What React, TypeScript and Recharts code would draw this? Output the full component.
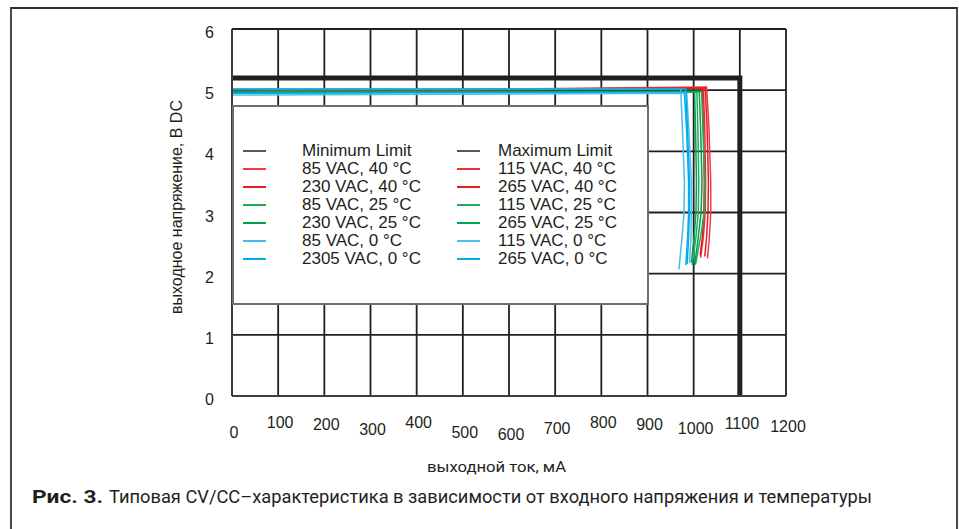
import { CartesianGrid, Legend, Line, LineChart, XAxis, YAxis } from "recharts";

// axis ticks
const xTicks = [0, 100, 200, 300, 400, 500, 600, 700, 800, 900, 1000, 1100, 1200];
const yTicks = [0, 1, 2, 3, 4, 5, 6];

// [current mA, voltage V]
const maxLimit = [[0, 5.2], [1100, 5.2], [1100, 0]];

const red85_40 = [[0, 4.98], [1028, 5.05], [1033, 4.4], [1037, 3.5], [1037, 3.0], [1034, 2.6], [1030, 2.25]];
const red230_40 = [[0, 4.97], [1025, 5.04], [1029, 4.4], [1032, 3.5], [1031, 3.0], [1028, 2.6], [1024, 2.28]];
const red115_40 = [[0, 4.98], [1021, 5.04], [1024, 4.4], [1026, 3.5], [1025, 3.0], [1021, 2.6], [1015, 2.26]];
const red265_40 = [[0, 4.97], [1019, 5.03], [1021, 4.4], [1023, 3.5], [1022, 3.0], [1019, 2.6], [1014, 2.3]];

const green85_25 = [[0, 4.98], [1017, 4.98], [1020, 4.4], [1024, 3.5], [1023, 3.0], [1015, 2.6], [1004, 2.15]];
const green230_25 = [[0, 4.98], [1012, 4.98], [1015, 4.4], [1018, 3.5], [1016, 3.0], [1010, 2.6], [1002, 2.14]];
const green115_25 = [[0, 4.97], [1007, 4.97], [1009, 4.4], [1011, 3.5], [1010, 3.0], [1005, 2.6], [997, 2.14]];
const green265_25 = [[0, 4.97], [1002, 4.97], [1004, 4.4], [1006, 3.5], [1005, 3.0], [1001, 2.6], [995, 2.18]];

const blue85_0 = [[0, 5.02], [972, 5.02], [976, 4.3], [980, 3.5], [979, 3.0], [975, 2.6], [968, 2.07]];
const blue2305_0 = [[0, 4.95], [980, 4.96], [985, 4.3], [989, 3.5], [989, 3.0], [987, 2.6], [983, 2.14]];
const blue115_0 = [[0, 4.92], [985, 4.95], [990, 4.3], [995, 3.5], [995, 3.0], [994, 2.6], [991, 2.17]];
const blue265_0 = [[0, 5.02], [983, 5.02], [987, 4.3], [991, 3.5], [991, 3.0], [989, 2.6], [986, 2.16]];

const toPts = (rows: number[][]) => rows.map(([x, y]) => ({ x, y }));

type Series = { key: string; name: string; color: string; data: number[][] };

const series: Series[] = [
  { key: "r85_40", name: "85 VAC, 40 °C", color: "#ef3b43", data: red85_40 },
  { key: "r230_40", name: "230 VAC, 40 °C", color: "#e81c25", data: red230_40 },
  { key: "r115_40", name: "115 VAC, 40 °C", color: "#ee2d36", data: red115_40 },
  { key: "r265_40", name: "265 VAC, 40 °C", color: "#e51b24", data: red265_40 },
  { key: "g85_25", name: "85 VAC, 25 °C", color: "#1fab5a", data: green85_25 },
  { key: "g230_25", name: "230 VAC, 25 °C", color: "#00a14b", data: green230_25 },
  { key: "g115_25", name: "115 VAC, 25 °C", color: "#22ad5c", data: green115_25 },
  { key: "g265_25", name: "265 VAC, 25 °C", color: "#00a651", data: green265_25 },
  { key: "b85_0", name: "85 VAC, 0 °C", color: "#45bdec", data: blue85_0 },
  { key: "b2305_0", name: "2305 VAC, 0 °C", color: "#00aeef", data: blue2305_0 },
  { key: "b115_0", name: "115 VAC, 0 °C", color: "#4cc0ee", data: blue115_0 },
  { key: "b265_0", name: "265 VAC, 0 °C", color: "#0aa9e6", data: blue265_0 },
];

const limitColor = "#58595b";
const leftColumn = [{ name: "Minimum Limit", color: limitColor }, ...["r85_40", "r230_40", "g85_25", "g230_25", "b85_0", "b2305_0"].map((k) => series.find((s) => s.key === k)!)];
const rightColumn = [{ name: "Maximum Limit", color: limitColor }, ...["r115_40", "r265_40", "g115_25", "g265_25", "b115_0", "b265_0"].map((k) => series.find((s) => s.key === k)!)];

const ink = "#231f20";

// small vertical jitter of the printed x labels
const xTickShift: Record<number, number> = { 0: 5, 100: -5, 200: -3, 300: 2, 400: -5, 500: 5, 600: 7, 700: 1, 800: -5, 900: -3, 1000: 1, 1100: -4, 1200: -1 };

function XTick({ x, y, payload }: any) {
  const dy = xTickShift[payload.value] ?? 0;
  return (
    <text x={x + 2} y={y + 37 + dy} textAnchor="middle" fontSize={16} fill={ink} fontFamily='"Liberation Sans", Arial, sans-serif'>
      {payload.value}
    </text>
  );
}

function YTick({ x, y, payload }: any) {
  return (
    <text x={x - 18} y={y + 9} textAnchor="end" fontSize={16} fill={ink} fontFamily='"Liberation Sans", Arial, sans-serif'>
      {payload.value}
    </text>
  );
}

function LegendBox() {
  const row = (items: { name: string; color: string }[], swX: number, txtX: number) =>
    items.map((it, i) => (
      <div key={it.name} style={{ position: "absolute", left: 0, top: 44 + i * 18 - 10, height: 20, width: "100%" }}>
        <div style={{ position: "absolute", left: swX, top: 9, width: 23, height: 2, background: it.color }} />
        <div style={{ position: "absolute", left: txtX, top: 0, lineHeight: "20px", fontSize: 17, color: ink, whiteSpace: "nowrap" }}>
          {it.name}
        </div>
      </div>
    ));
  return (
    <div
      style={{
        position: "relative",
        width: 413,
        height: 196,
        background: "#fff",
        border: "2px solid #6d6e70",
        fontFamily: '"Liberation Sans", Arial, sans-serif',
      }}
    >
      {row(leftColumn, 9, 68)}
      {row(rightColumn, 223, 264)}
    </div>
  );
}

export default function App() {
  return (
    <div style={{ position: "absolute", left: 0, top: 0, width: 959, height: 529, background: "#fff", overflow: "hidden" }}>
      <div
        style={{
          position: "absolute",
          left: 10,
          top: 7,
          width: 944,
          height: 560,
          borderTop: "2px solid #2e2e2e",
          borderLeft: "2px solid #4a4a4a",
          borderRight: "2px solid #4a4a4a",
        }}
      />
      <div style={{ position: "absolute", left: 0, top: 0 }}>
        <LineChart width={959} height={529} margin={{ top: 29, right: 173, bottom: 93, left: 0 }}>
          <CartesianGrid stroke={ink} strokeWidth={1.8} />
          <XAxis
            type="number"
            dataKey="x"
            domain={[0, 1200]}
            ticks={xTicks}
            interval={0}
            height={40}
            tickSize={0}
            tickMargin={0}
            tick={<XTick />}
            axisLine={{ stroke: "#3d3d3d", strokeWidth: 2 }}
          />
          <YAxis
            type="number"
            dataKey="y"
            domain={[0, 6]}
            ticks={yTicks}
            interval={0}
            width={232}
            tickSize={0}
            tickMargin={0}
            tick={<YTick />}
            axisLine={{ stroke: "#3d3d3d", strokeWidth: 2 }}
          />
          <Legend
            layout="vertical"
            align="center"
            verticalAlign="middle"
            content={() => <LegendBox />}
            wrapperStyle={{ position: "absolute", left: 232, top: 105, width: 417, height: 200 }}
          />
          <Line
            data={toPts(maxLimit)}
            dataKey="y"
            type="linear"
            stroke={ink}
            strokeWidth={5}
            dot={false}
            activeDot={false}
            legendType="none"
            isAnimationActive={false}
          />
          {series.map((s) => (
            <Line
              key={s.key}
              data={toPts(s.data)}
              dataKey="y"
              name={s.name}
              type="linear"
              stroke={s.color}
              strokeWidth={1.5}
              dot={false}
              activeDot={false}
              isAnimationActive={false}
            />
          ))}
        </LineChart>
      </div>
      <svg width={959} height={529} style={{ position: "absolute", left: 0, top: 0, pointerEvents: "none" }}>
        <text
          transform="translate(176,207) rotate(-90)"
          textAnchor="middle"
          dominantBaseline="central"
          fontSize={16}
          fill={ink}
          fontFamily='"Liberation Sans", Arial, sans-serif'
        >
          выходное напряжение, В DC
        </text>
        <text x={427} y={472} fontSize={15} fill={ink} fontFamily="Roboto, sans-serif" textLength={139} lengthAdjust="spacingAndGlyphs">
          выходной ток, мА
        </text>
        <text x={32} y={503} fontSize={19} fontWeight={700} fill={ink} fontFamily="Roboto, sans-serif" textLength={71} lengthAdjust="spacingAndGlyphs">
          Рис. 3.
        </text>
        <text x={109} y={503} fontSize={19} fill={ink} fontFamily="Roboto, sans-serif" textLength={763} lengthAdjust="spacingAndGlyphs">
          Типовая CV/CC–характеристика в зависимости от входного напряжения и температуры
        </text>
      </svg>
    </div>
  );
}
